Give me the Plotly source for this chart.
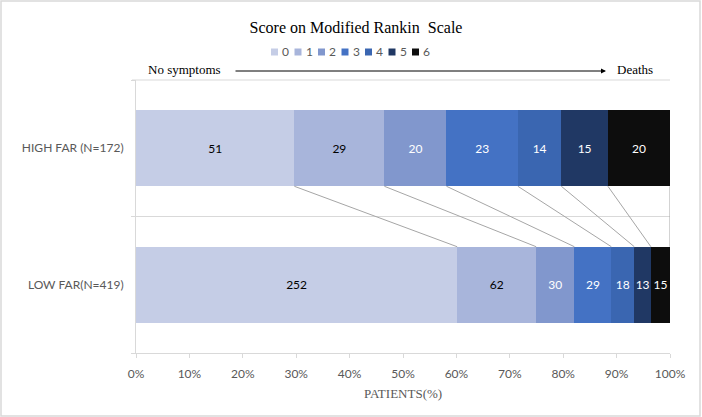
import plotly.graph_objects as go

# ---------------- data ----------------
groups = ["LOW FAR(N=419)", "HIGH FAR (N=172)"]
scores = ["0", "1", "2", "3", "4", "5", "6"]
low_far = [252, 62, 30, 29, 18, 13, 15]
high_far = [51, 29, 20, 23, 14, 15, 20]
colors = ["#C5CDE6", "#A8B5DB", "#8197CD", "#4472C4", "#3A66B1", "#203864", "#0D0D0D"]
label_colors = ["black", "black", "white", "white", "white", "white", "white"]
x_ticks = [0, 10, 20, 30, 40, 50, 60, 70, 80, 90, 100]
x_tick_labels = ["0%", "10%", "20%", "30%", "40%", "50%", "60%", "70%", "80%", "90%", "100%"]

# ---------------- layout constants ----------------
W, H = 702, 417
L, R, T, B = 136, 32, 80, 64
PW, PH = W - L - R, H - T - B
BARGAP = 0.443

def px_x(p):
    return (p - L) / PW

def px_y(p):
    return (T + PH - p) / PH

low_tot = sum(low_far)
high_tot = sum(high_far)
low_pct = [v / low_tot * 100 for v in low_far]
high_pct = [v / high_tot * 100 for v in high_far]

fig = go.Figure()
for i, s in enumerate(scores):
    fig.add_trace(go.Bar(
        name=s,
        orientation="h",
        y=groups,
        x=[low_pct[i], high_pct[i]],
        text=[str(low_far[i]), str(high_far[i])],
        textposition="inside",
        insidetextanchor="middle",
        textangle=0,
        textfont=dict(family="Lato", size=12, color=label_colors[i]),
        marker=dict(color=colors[i], line=dict(width=0)),
        showlegend=False,
        hoverinfo="x+y+name",
    ))

shapes = []
# top category boundary line
shapes.append(dict(type="line", xref="paper", yref="paper",
                   x0=px_x(L - 4), x1=1, y0=1, y1=1,
                   line=dict(color="#D9D9D9", width=1), layer="above"))
# connector lines between cumulative boundaries
hw = (1 - BARGAP) / 2
cum_l, cum_h = 0.0, 0.0
for i in range(len(scores)):
    cum_l += low_pct[i]
    cum_h += high_pct[i]
    shapes.append(dict(type="line", xref="x", yref="y",
                       x0=cum_h, y0=1 - hw, x1=cum_l, y1=0 + hw,
                       line=dict(color="#A6A6A6", width=1), layer="above"))

# outer frame
shapes.append(dict(type="rect", xref="paper", yref="paper",
                   x0=px_x(1), y0=px_y(416), x1=px_x(700), y1=px_y(1),
                   line=dict(color="#D9D9D9", width=1.5), layer="below"))

annotations = []
# compact legend
LEG_X0, LEG_STEP, LEG_Y, SQ = 271, 23.5, 52, 7
for i, s in enumerate(scores):
    x0 = LEG_X0 + i * LEG_STEP
    shapes.append(dict(type="rect", xref="paper", yref="paper",
                       x0=px_x(x0), x1=px_x(x0 + SQ),
                       y0=px_y(LEG_Y + SQ / 2), y1=px_y(LEG_Y - SQ / 2),
                       fillcolor=colors[i], line=dict(width=0)))
    annotations.append(dict(text=s, xref="paper", yref="paper",
                            x=px_x(x0 + SQ + 2), y=px_y(LEG_Y),
                            xanchor="left", yanchor="middle", showarrow=False,
                            font=dict(family="Lato", size=12, color="#595959")))

# arrow "No symptoms" -> "Deaths"
annotations.append(dict(text="No symptoms", xref="paper", yref="paper",
                        x=px_x(184), y=px_y(70), xanchor="center", yanchor="middle",
                        showarrow=False,
                        font=dict(family="Liberation Serif", size=13, color="black")))
annotations.append(dict(text="Deaths", xref="paper", yref="paper",
                        x=px_x(635), y=px_y(70), xanchor="center", yanchor="middle",
                        showarrow=False,
                        font=dict(family="Liberation Serif", size=13, color="black")))
annotations.append(dict(text="", xref="paper", yref="paper",
                        x=px_x(606), y=px_y(71), ax=234 - 606, ay=0,
                        showarrow=True, arrowhead=2, arrowsize=1, arrowwidth=1,
                        arrowcolor="black"))

fig.update_layout(
    width=W, height=H,
    margin=dict(l=L, r=R, t=T, b=B, autoexpand=False),
    paper_bgcolor="white", plot_bgcolor="white",
    barmode="stack", bargap=BARGAP,
    title=dict(text="Score on Modified Rankin  Scale", xref="container", yref="container",
               x=356 / W, y=1 - 27 / H, xanchor="center", yanchor="middle",
               font=dict(family="Liberation Serif", size=16, color="black")),
    uniformtext=dict(minsize=12, mode="show"),
    shapes=shapes, annotations=annotations,
    showlegend=False,
    xaxis=dict(range=[0, 100], tickmode="array", tickvals=x_ticks, ticktext=x_tick_labels,
               showgrid=False, zeroline=False,
               showline=True, linecolor="#D9D9D9", linewidth=1,
               ticks="outside", ticklen=4, tickcolor="#D9D9D9",
               ticklabelstandoff=6,
               tickfont=dict(family="Lato", size=12, color="#595959"),
               title=dict(text="PATIENTS(%)", standoff=8,
                          font=dict(family="Liberation Serif", size=13, color="#595959"))),
    yaxis=dict(type="category", categoryorder="array", categoryarray=groups,
               range=[-0.5, 1.5], tickson="boundaries",
               showgrid=True, gridcolor="#D9D9D9", gridwidth=1,
               showline=True, linecolor="#D9D9D9", linewidth=1,
               ticks="outside", ticklen=4, tickcolor="#D9D9D9",
               ticklabelstandoff=9,
               tickfont=dict(family="Lato", size=12, color="#595959")),
)

fig.write_html("out.html",
               config={"displayModeBar": False},
               post_script="document.body.style.margin='0';document.body.style.overflow='hidden';")
